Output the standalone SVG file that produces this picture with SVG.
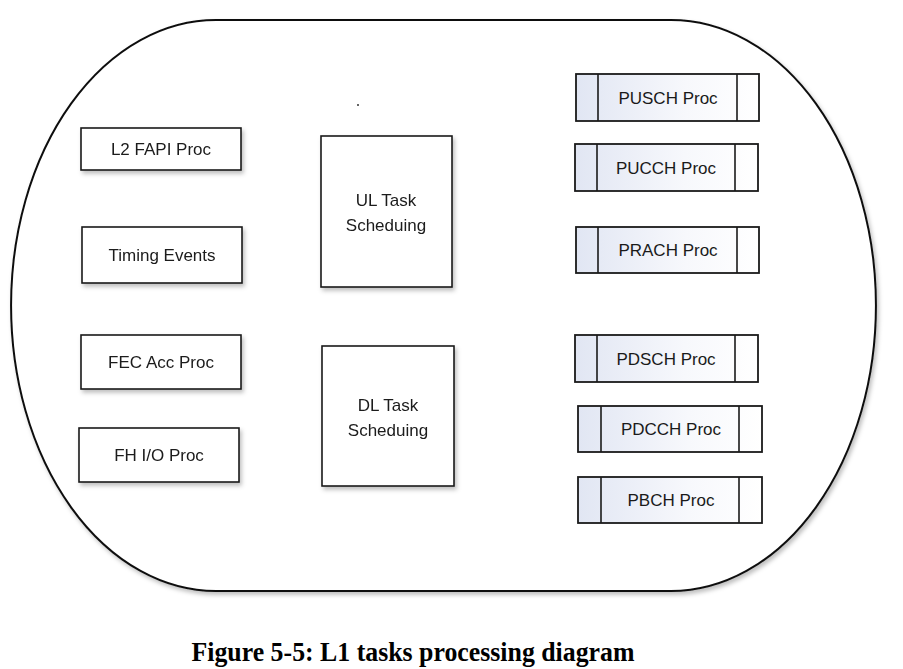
<svg xmlns="http://www.w3.org/2000/svg" width="903" height="669" viewBox="0 0 903 669">
<style>
.box{fill:#ffffff;stroke:#1a1a1a;stroke-width:1.6}
.pbox{fill:url(#pg);stroke:#1a1a1a;stroke-width:1.8}
.div{stroke:#1a1a1a;stroke-width:1.6;fill:none}
.lbl{font-family:"Liberation Sans",Arial,sans-serif;font-size:17px;fill:#1a1a1a;text-anchor:middle}
.cap{font-family:"Liberation Serif","Times New Roman",serif;font-weight:bold;font-size:27px;fill:#000;text-anchor:middle}
</style>
<defs>
<linearGradient id="pg" x1="0" y1="0" x2="1" y2="0">
<stop offset="0" stop-color="#e1e6f3"/>
<stop offset="0.6" stop-color="#f7f8fc"/>
<stop offset="1" stop-color="#ffffff"/>
</linearGradient>
<filter id="sh" x="-10%" y="-10%" width="130%" height="140%">
<feDropShadow dx="2" dy="3" stdDeviation="2" flood-color="#000" flood-opacity="0.25"/>
</filter>
</defs>
<rect width="903" height="669" fill="#ffffff"/>
<g id="container">
<path d="M216,20 H671 A205 285.5 0 0 1 671,591 H216 A205 285.5 0 0 1 216,20 Z" fill="#ffffff" stroke="#111" stroke-width="2" filter="url(#sh)"/>
</g>
<g id="dot"><circle cx="358" cy="105" r="1" fill="#333"/></g>
<g id="l2fapi" filter="url(#sh)"><rect class="box" x="81" y="128" width="160" height="42"/><text class="lbl" x="161" y="155">L2 FAPI Proc</text></g>
<g id="timing" filter="url(#sh)"><rect class="box" x="82" y="227" width="160" height="56"/><text class="lbl" x="162" y="261">Timing Events</text></g>
<g id="fec" filter="url(#sh)"><rect class="box" x="81" y="335" width="160" height="54"/><text class="lbl" x="161" y="368">FEC Acc Proc</text></g>
<g id="fhio" filter="url(#sh)"><rect class="box" x="79" y="428" width="160" height="54"/><text class="lbl" x="159" y="461">FH I/O Proc</text></g>
<g id="ultask" filter="url(#sh)"><rect class="box" x="321" y="136" width="131" height="151"/><text class="lbl" x="386" y="206">UL Task</text><text class="lbl" x="386" y="231">Scheduing</text></g>
<g id="dltask" filter="url(#sh)"><rect class="box" x="322" y="346" width="132" height="140"/><text class="lbl" x="388" y="411">DL Task</text><text class="lbl" x="388" y="436">Scheduing</text></g>
<g id="pusch"><rect class="pbox" x="576" y="74" width="183" height="47"/><line class="div" x1="598" y1="74" x2="598" y2="121"/><line class="div" x1="737" y1="74" x2="737" y2="121"/><text class="lbl" x="668" y="104">PUSCH Proc</text></g>
<g id="pucch"><rect class="pbox" x="575" y="144" width="183" height="47"/><line class="div" x1="597" y1="144" x2="597" y2="191"/><line class="div" x1="735" y1="144" x2="735" y2="191"/><text class="lbl" x="666" y="174">PUCCH Proc</text></g>
<g id="prach"><rect class="pbox" x="576" y="227" width="183" height="46"/><line class="div" x1="598" y1="227" x2="598" y2="273"/><line class="div" x1="737" y1="227" x2="737" y2="273"/><text class="lbl" x="668" y="256">PRACH Proc</text></g>
<g id="pdsch"><rect class="pbox" x="575" y="335" width="183" height="47"/><line class="div" x1="597" y1="335" x2="597" y2="382"/><line class="div" x1="735" y1="335" x2="735" y2="382"/><text class="lbl" x="666" y="365">PDSCH Proc</text></g>
<g id="pdcch"><rect class="pbox" x="578" y="406" width="184" height="46"/><line class="div" x1="601" y1="406" x2="601" y2="452"/><line class="div" x1="739" y1="406" x2="739" y2="452"/><text class="lbl" x="671" y="435">PDCCH Proc</text></g>
<g id="pbch"><rect class="pbox" x="578" y="477" width="184" height="46"/><line class="div" x1="601" y1="477" x2="601" y2="523"/><line class="div" x1="739" y1="477" x2="739" y2="523"/><text class="lbl" x="671" y="506">PBCH Proc</text></g>
<g id="connectors"></g>
<text class="cap" x="413" y="661" textLength="443" lengthAdjust="spacingAndGlyphs">Figure 5-5: L1 tasks processing diagram</text>
</svg>
